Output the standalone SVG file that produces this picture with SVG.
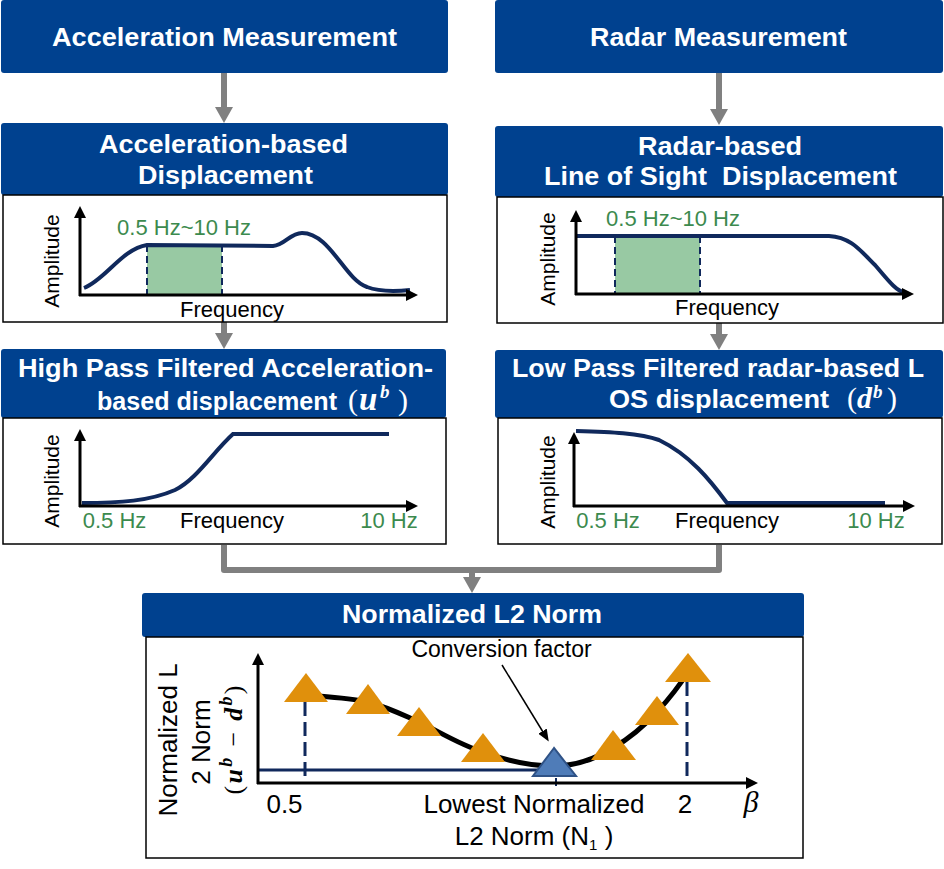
<svg xmlns="http://www.w3.org/2000/svg" width="944" height="869" viewBox="0 0 944 869">
<defs>
<style>
.hdr{fill:#00418F}
.pnl{fill:#fff;stroke:#000;stroke-width:1.5}
.ht{font-family:"Liberation Sans",Arial,sans-serif;font-weight:bold;font-size:25px;fill:#fff;text-anchor:middle}
.hm{font-family:"Liberation Serif","DejaVu Serif",serif;font-size:30px;fill:#fff}
.mi{font-weight:bold;font-style:italic}
.sup{font-size:19px}
.lbl{font-family:"Liberation Sans",Arial,sans-serif;font-size:22px;fill:#000}
.amp{font-size:21px}
.big{font-size:26px}
.grn{fill:#3C8A4E}
.ax{fill:none;stroke:#000;stroke-width:3;marker-end:url(#ab)}
.crv{fill:none;stroke:#10295C;stroke-width:4}
.dsh{fill:none;stroke:#10295C;stroke-width:2;stroke-dasharray:7,4}
.band{fill:#98C9A3}
.con{fill:none;stroke:#808080;stroke-width:6}
.tri{fill:#E0900C}
</style>
<marker id="ag" markerUnits="userSpaceOnUse" markerWidth="18" markerHeight="18" refX="1" refY="9" orient="auto" viewBox="0 0 16 18">
<path d="M0,0 L16,9 L0,18 z" fill="#808080"/>
</marker>
<marker id="ab" markerUnits="userSpaceOnUse" markerWidth="12" markerHeight="12" refX="1" refY="6" orient="auto" viewBox="0 0 12 12">
<path d="M0,0 L12,6 L0,12 z" fill="#000"/>
</marker>
<marker id="at" markerUnits="userSpaceOnUse" markerWidth="12" markerHeight="10" refX="1" refY="5" orient="auto" viewBox="0 0 12 10">
<path d="M0,0 L12,5 L0,10 z" fill="#000"/>
</marker>
</defs>
<rect width="944" height="869" fill="#fff"/>

<g id="connectors">
<path class="con" d="M224,73 V108" marker-end="url(#ag)"/>
<path class="con" d="M719,73 V110" marker-end="url(#ag)"/>
<path class="con" d="M224,322 V334" marker-end="url(#ag)"/>
<path class="con" d="M719,323 V335" marker-end="url(#ag)"/>
<path class="con" d="M224,545 V570 H719 V545" stroke-linejoin="round"/>
<path class="con" d="M472,570 V578" marker-end="url(#ag)"/>
</g>

<g id="acc-meas">
<rect class="hdr" x="1" y="0" width="447" height="73" rx="3"/>
<text class="ht" x="224.5" y="46" textLength="345" lengthAdjust="spacingAndGlyphs">Acceleration Measurement</text>
</g>

<g id="radar-meas">
<rect class="hdr" x="495" y="0" width="448" height="73" rx="3"/>
<text class="ht" x="718.5" y="46" textLength="257" lengthAdjust="spacingAndGlyphs">Radar Measurement</text>
</g>

<g id="acc-disp">
<rect class="hdr" x="1" y="123" width="447" height="72" rx="3"/>
<rect class="pnl" x="3" y="195" width="444" height="127"/>
<text class="ht" x="223.5" y="153" textLength="249" lengthAdjust="spacingAndGlyphs">Acceleration-based</text>
<text class="ht" x="225.5" y="184" textLength="175" lengthAdjust="spacingAndGlyphs">Displacement</text>
<rect class="band" x="147" y="245" width="75" height="50"/>
<path class="dsh" d="M147,245 V295 M222,245 V295"/>
<path class="crv" d="M84,288 C105,280 122,249 147,245 L273,246 C285,245 290,233 302,233 C330,233 345,280 367,287 C380,292 400,291 410,290"/>
<path class="ax" d="M80,296 V217"/>
<path class="ax" d="M79,295 H407"/>
<text class="lbl amp" text-anchor="middle" transform="translate(59,261) rotate(-90)">Amplitude</text>
<text class="lbl grn" text-anchor="middle" x="184" y="235">0.5 Hz~10 Hz</text>
<text class="lbl" text-anchor="middle" x="232" y="317">Frequency</text>
</g>

<g id="radar-disp">
<rect class="hdr" x="495" y="126" width="448" height="71" rx="3"/>
<rect class="pnl" x="497" y="197" width="446" height="126"/>
<text class="ht" x="720" y="155" textLength="164" lengthAdjust="spacingAndGlyphs">Radar-based</text>
<text class="ht" x="720.5" y="185" textLength="353" lengthAdjust="spacingAndGlyphs" xml:space="preserve">Line of Sight  Displacement</text>
<rect class="band" x="615" y="236" width="85" height="58"/>
<path class="dsh" d="M615,236 V294 M700,236 V294"/>
<path class="crv" d="M576,236 L829,236 C850,237 860,250 875,265 C888,280 895,290 905,293"/>
<path class="ax" d="M576,295 V221"/>
<path class="ax" d="M575,294 H903"/>
<text class="lbl amp" text-anchor="middle" transform="translate(555,259) rotate(-90)">Amplitude</text>
<text class="lbl grn" text-anchor="middle" x="673" y="226">0.5 Hz~10 Hz</text>
<text class="lbl" text-anchor="middle" x="727" y="315">Frequency</text>
</g>

<g id="hp-acc">
<rect class="hdr" x="1" y="349" width="445" height="69" rx="3"/>
<rect class="pnl" x="3" y="418" width="443" height="126"/>
<text class="ht" x="225.5" y="377" textLength="415" lengthAdjust="spacingAndGlyphs">High Pass Filtered Acceleration-</text>
<text class="ht" x="217" y="410" textLength="240" lengthAdjust="spacingAndGlyphs">based displacement</text>
<text class="hm" y="410"><tspan x="348">(</tspan><tspan class="mi" style="font-size:33px" x="359">u</tspan><tspan class="mi sup" x="380" dy="-12">b</tspan><tspan x="398" dy="12">)</tspan></text>
<path class="crv" d="M82,503 C120,503 150,501 175,490 C197,479 213,452 233,434 L389,434"/>
<path class="ax" d="M80,507 V440"/>
<path class="ax" d="M79,506 H407"/>
<text class="lbl amp" text-anchor="middle" transform="translate(59,481) rotate(-90)">Amplitude</text>
<text class="lbl grn" text-anchor="middle" x="114.5" y="528">0.5 Hz</text>
<text class="lbl" text-anchor="middle" x="232" y="528">Frequency</text>
<text class="lbl grn" text-anchor="middle" x="389" y="528">10 Hz</text>
</g>

<g id="lp-radar">
<rect class="hdr" x="495" y="350" width="448" height="68" rx="3"/>
<rect class="pnl" x="498" y="418" width="444" height="126"/>
<text class="ht" x="718" y="377" textLength="412" lengthAdjust="spacingAndGlyphs">Low Pass Filtered radar-based L</text>
<text class="ht" x="719" y="408" textLength="220" lengthAdjust="spacingAndGlyphs">OS displacement</text>
<text class="hm" y="408"><tspan x="847">(</tspan><tspan class="mi" x="857">d</tspan><tspan class="mi sup" x="873" dy="-10">b</tspan><tspan x="887" dy="10">)</tspan></text>
<path class="crv" d="M576,431 C610,432 640,433 659,440 C690,455 710,480 727,503 L885,503"/>
<path class="ax" d="M574,507 V443"/>
<path class="ax" d="M573,506 H904"/>
<text class="lbl amp" text-anchor="middle" transform="translate(555,482) rotate(-90)">Amplitude</text>
<text class="lbl grn" text-anchor="middle" x="608" y="528">0.5 Hz</text>
<text class="lbl" text-anchor="middle" x="727" y="528">Frequency</text>
<text class="lbl grn" text-anchor="middle" x="876" y="528">10 Hz</text>
</g>

<g id="l2-norm">
<rect class="hdr" x="142" y="593" width="662" height="44" rx="3"/>
<rect class="pnl" x="146" y="637" width="657" height="221"/>
<text class="ht" x="472" y="623" textLength="260" lengthAdjust="spacingAndGlyphs">Normalized L2 Norm</text>
<path d="M258,770 H545" fill="none" stroke="#10295C" stroke-width="3"/>
<path d="M305,702 V783 M687,682 V783" fill="none" stroke="#10295C" stroke-width="3" stroke-dasharray="14,6"/>
<path d="M556,778 V786" stroke="#10295C" stroke-width="2"/>
<path class="ax" d="M258,784 V664"/>
<path class="ax" d="M257,783 H747"/>
<path d="M306,695 C330,697 350,698 368,702 C390,708 405,716 419,722 C440,732 460,745 483,752 C510,762 535,766 554,766 C580,766 600,756 613,748 C630,738 645,725 657,712 C668,700 678,688 688,672" fill="none" stroke="#000" stroke-width="5"/>
<polygon class="tri" points="306,673 284,702 328,702"/>
<polygon class="tri" points="368,684 346,714 390,714"/>
<polygon class="tri" points="419,707 397,736 441,736"/>
<polygon class="tri" points="483,733 461,762 505,762"/>
<polygon points="554,748 533,776 576,776" fill="#4F7CB8" stroke="#2F5286" stroke-width="2"/>
<polygon class="tri" points="613,730 591,760 636,760"/>
<polygon class="tri" points="657,696 635,725 679,725"/>
<polygon class="tri" points="688,653 665,682 711,682"/>
<text class="lbl" style="font-size:23px" text-anchor="middle" x="501.5" y="657">Conversion factor</text>
<path d="M502,665 L543,732" fill="none" stroke="#000" stroke-width="1.5" marker-end="url(#at)"/>
<text class="lbl big" text-anchor="middle" transform="translate(177,740) rotate(-90)">Normalized L</text>
<text class="lbl big" text-anchor="middle" transform="translate(210,742) rotate(-90)">2 Norm</text>
<text font-family="Liberation Serif,DejaVu Serif,serif" font-size="26" fill="#000" text-anchor="middle" transform="translate(242,740) rotate(-90)" textLength="109" lengthAdjust="spacing">(<tspan class="mi">u</tspan><tspan class="mi" style="font-size:18px" dy="-10">b</tspan><tspan dy="10"> − </tspan><tspan class="mi">d</tspan><tspan class="mi" style="font-size:18px" dy="-10">b</tspan><tspan dy="10">)</tspan></text>
<text class="lbl big" text-anchor="middle" x="284.5" y="813">0.5</text>
<text class="lbl big" text-anchor="middle" x="534" y="813">Lowest Normalized</text>
<text class="lbl big" text-anchor="middle" x="534" y="845">L2 Norm (N<tspan style="font-size:15px" dy="5">1</tspan><tspan dy="-5"> )</tspan></text>
<text class="lbl big" text-anchor="middle" x="685" y="813">2</text>
<text font-family="Liberation Serif,DejaVu Serif,serif" font-style="italic" font-size="30" fill="#000" text-anchor="middle" x="751" y="812">β</text>
</g>
</svg>
